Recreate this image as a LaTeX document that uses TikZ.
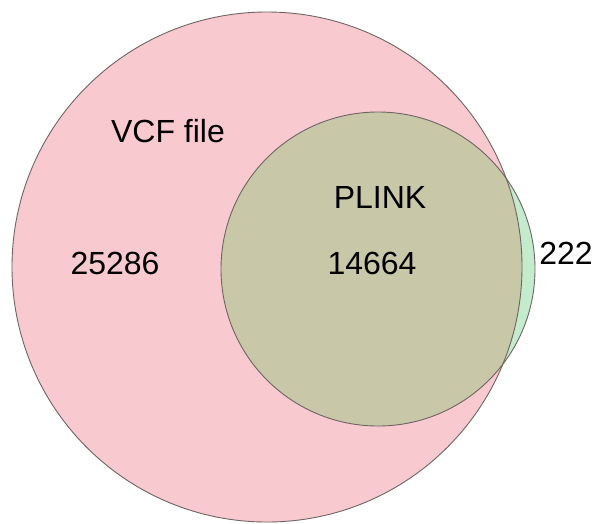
\documentclass[tikz,border=0pt]{standalone}
\usepackage{fontspec}
\setmainfont{Liberation Sans}
\usepackage{xcolor}
\definecolor{vcfpink}{RGB}{249,201,208}
\definecolor{plinkgreen}{RGB}{196,236,204}
\definecolor{overlapolive}{RGB}{200,200,168}
\definecolor{rimgray}{RGB}{110,100,100}

\begin{document}
\begin{tikzpicture}[x=1pt,y=-1pt,
    setlabel/.style={font=\fontsize{32}{38}\selectfont,inner sep=0pt,anchor=base},
    rim/.style={draw=rimgray,line width=0.9pt}]
        \useasboundingbox (0,0) rectangle (593,523);

        % Set centres
        \coordinate (vcfc) at (267,267);
        \coordinate (plinkc) at (378,269);

        % Fills
        \fill[plinkgreen] (plinkc) circle [radius=157pt];
        \fill[vcfpink] (vcfc) circle [radius=255pt];
        \begin{scope}
            \clip (vcfc) circle [radius=255pt];
            \fill[overlapolive] (plinkc) circle [radius=157pt];
        \end{scope}

        % Outlines
        \draw[rim] (vcfc) circle [radius=255pt];
        \draw[rim] (plinkc) circle [radius=157pt];

        % Labels
        \node[setlabel] (vcfname) at (168,142) {VCF file};
        \node[setlabel] (vcfonly) at (115,274) {25286};
        \node[setlabel] (plinkname) at (380,208) {PLINK};
        \node[setlabel] (both) at (372,274) {14664};
        \node[setlabel] (plinkonly) at (566,264) {222};
    \end{tikzpicture}
\end{document}
